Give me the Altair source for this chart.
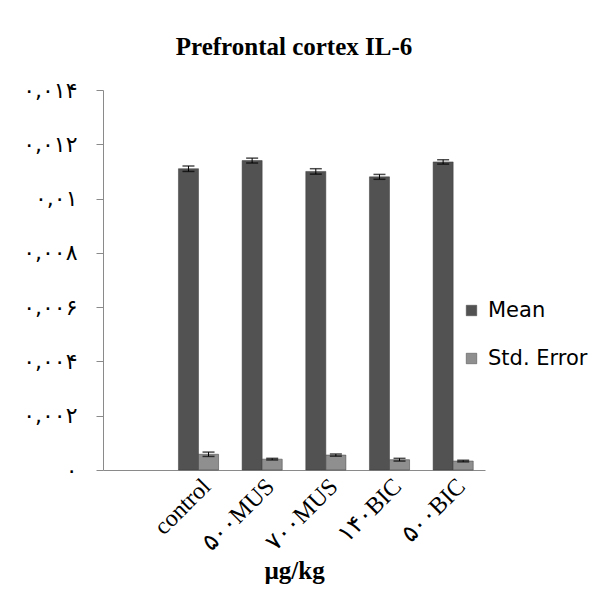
import json
import altair as alt
import pandas as pd

# ---- data ----
categories = ["control", "۵۰۰MUS", "۷۰۰MUS", "۱۴۰BIC", "۵۰۰BIC"]
series = ["Mean", "Std. Error"]
mean_values = [0.01110, 0.01140, 0.01100, 0.01080, 0.01135]
mean_err = [0.00010, 0.00009, 0.00010, 0.00009, 0.00008]
se_values = [0.00058, 0.00040, 0.00055, 0.00038, 0.00033]
se_err = [0.00008, 0.00003, 0.00004, 0.00005, 0.00003]
y_ticks = [0, 0.002, 0.004, 0.006, 0.008, 0.010, 0.012, 0.014]
y_tick_labels = ["۰", "۰,۰۰۲", "۰,۰۰۴", "۰,۰۰۶", "۰,۰۰۸", "۰,۰۱", "۰,۰۱۲", "۰,۰۱۴"]
title_text = "Prefrontal cortex IL-6"
x_title = "µg/kg"

rows = []
for i, c in enumerate(categories):
    rows.append({"cat": c, "series": series[0], "value": mean_values[i],
                 "lo": mean_values[i] - mean_err[i], "hi": mean_values[i] + mean_err[i]})
    rows.append({"cat": c, "series": series[1], "value": se_values[i],
                 "lo": se_values[i] - se_err[i], "hi": se_values[i] + se_err[i]})
df = pd.DataFrame(rows)

x_domain = [" "] + categories
label_expr = json.dumps(y_tick_labels, ensure_ascii=False) + "[round(datum.value/0.002)]"

x_enc = alt.X("cat:N", sort=x_domain,
              scale=alt.Scale(domain=x_domain, paddingInner=0.37, paddingOuter=0.185),
              axis=alt.Axis(title=x_title, labelAngle=-45, ticks=False,
                            labelFont="Liberation Serif, DejaVu Sans", labelFontSize=24,
                            labelColor="#000000", labelPadding=4,
                            titleFont="Liberation Serif", titleFontSize=25, titleFontWeight="bold",
                            titleColor="#000000", titleY=108, titleBaseline="alphabetic",
                            domainColor="#8a8a8a"))
xoff = alt.XOffset("series:N", sort=series, scale=alt.Scale(domain=series, paddingInner=0, paddingOuter=0))
y_scale = alt.Scale(domain=[0, 0.014])

bars = alt.Chart(df).mark_bar(stroke="#3a3a3a", strokeWidth=0.5).encode(
    x=x_enc,
    xOffset=xoff,
    y=alt.Y("value:Q", scale=y_scale,
            axis=alt.Axis(title=None, values=y_ticks, labelExpr=label_expr, grid=False,
                          tickSize=7, tickColor="#8a8a8a", domainColor="#8a8a8a",
                          labelFont="DejaVu Sans", labelFontSize=22, labelColor="#000000",
                          labelPadding=19)),
    color=alt.Color("series:N", sort=series,
                    scale=alt.Scale(domain=series, range=["#525252", "#8f8f8f"]),
                    legend=alt.Legend(title=None, orient="none", legendX=358, legendY=210,
                                      symbolType="square", symbolSize=110, symbolStrokeWidth=0.5,
                                      symbolStrokeColor="#444444",
                                      labelFont="DejaVu Sans", labelFontSize=21,
                                      labelColor="#000000", rowPadding=26, labelOffset=6)),
)

rules = alt.Chart(df).mark_rule(color="#000000", strokeWidth=1).encode(
    x=alt.X("cat:N", sort=x_domain), xOffset=xoff,
    y=alt.Y("lo:Q", scale=y_scale), y2="hi:Q")
cap_lo = alt.Chart(df).mark_tick(color="#000000", thickness=1.5, size=12).encode(
    x=alt.X("cat:N", sort=x_domain), xOffset=xoff, y=alt.Y("lo:Q", scale=y_scale))
cap_hi = alt.Chart(df).mark_tick(color="#000000", thickness=1.5, size=12).encode(
    x=alt.X("cat:N", sort=x_domain), xOffset=xoff, y=alt.Y("hi:Q", scale=y_scale))

chart = alt.layer(bars, rules, cap_lo, cap_hi).properties(
    width=382, height=380,
    title=alt.TitleParams(title_text, font="Liberation Serif", fontSize=25, fontWeight="bold",
                          color="#000000", offset=19, anchor="middle"),
    autosize=alt.AutoSizeParams(type="none"),
    padding={"left": 95, "top": 82, "right": 105, "bottom": 119},
).configure(background="#ffffff", view=alt.ViewConfig(stroke=None))

chart.save("out.html", embed_options={"renderer": "svg", "actions": False})
